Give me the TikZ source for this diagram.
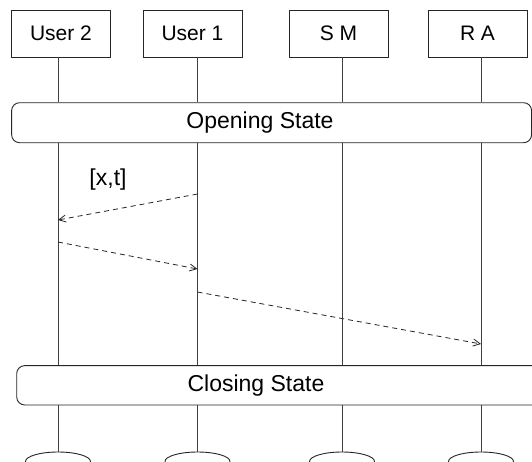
\documentclass[tikz,border=0pt]{standalone}
\usepackage{fontspec}
\setmainfont{Liberation Sans}
\usetikzlibrary{arrows.meta,shapes.geometric}
\begin{document}
\begin{tikzpicture}[x=1pt,y=-1pt,
  actor/.style={draw=black!85, line width=0.9pt, minimum width=99pt, minimum height=47pt, inner sep=0pt, font=\fontsize{21}{25}\selectfont},
  statebox/.style={draw=black!85, line width=0.9pt, rounded corners=8pt, inner sep=0pt},
  statetxt/.style={inner sep=0pt, font=\fontsize{23}{27}\selectfont},
  life/.style={draw=black!75, line width=0.9pt},
  msg/.style={draw=black!85, line width=0.8pt, dash pattern=on 5pt off 4pt, -{Straight Barb[length=7pt,width=7pt]}},
  endcap/.style={draw=black!85, line width=0.9pt, ellipse, minimum width=65pt, minimum height=19pt, inner sep=0pt}]
\useasboundingbox (0,0) rectangle (532,461);
\clip (0,0) rectangle (532,461);
\fill[white] (0,0) rectangle (532,461);
% lifeline x positions
\coordinate (l1) at (58,0);
\coordinate (l2) at (197.5,0);
\coordinate (l3) at (342,0);
\coordinate (l4) at (481,0);
% actors
\node[actor] (u2) at (61,33.5) {User 2};
\node[actor] (u1) at (192.5,33.5) {User 1};
\node[actor] (sm) at (338.5,33.5) {S M};
\node[actor] (ra) at (477.5,33.5) {R A};
% states
\node[statebox, minimum width=520pt, minimum height=40pt] (open) at (271.6,122.7) {};
\node[statetxt] (opentxt) at (260,122.7) {Opening State};
\node[statebox, minimum width=530pt, minimum height=39.3pt] (close) at (281.7,385.3) {};
\node[statetxt] (closetxt) at (256,385.3) {Closing State};
% end caps
\node[endcap] (e1) at (58,461.5) {};
\node[endcap] (e2) at (197.5,461.5) {};
\node[endcap] (e3) at (342,461.5) {};
\node[endcap] (e4) at (481,461.5) {};
% lifelines
\foreach \a/\l/\e in {u2/l1/e1, u1/l2/e2, sm/l3/e3, ra/l4/e4}{
  \draw[life] (\a.south -| \l) -- (open.north -| \l);
  \draw[life] (open.south -| \l) -- (close.north -| \l);
  \draw[life] (close.south -| \l) -- (\e.north);
}
% messages
\coordinate (m1s) at (197.5,194);
\coordinate (m1e) at (58,220);
\coordinate (m2s) at (58,242);
\coordinate (m2e) at (197.5,269);
\coordinate (m3s) at (197.5,292);
\coordinate (m3e) at (481,344);
\draw[msg] (m1s) -- (m1e);
\draw[msg] (m2s) -- (m2e);
\draw[msg] (m3s) -- (m3e);
\node[statetxt] (lbl) at (108,180) {[x,t]};
\end{tikzpicture}
\end{document}
